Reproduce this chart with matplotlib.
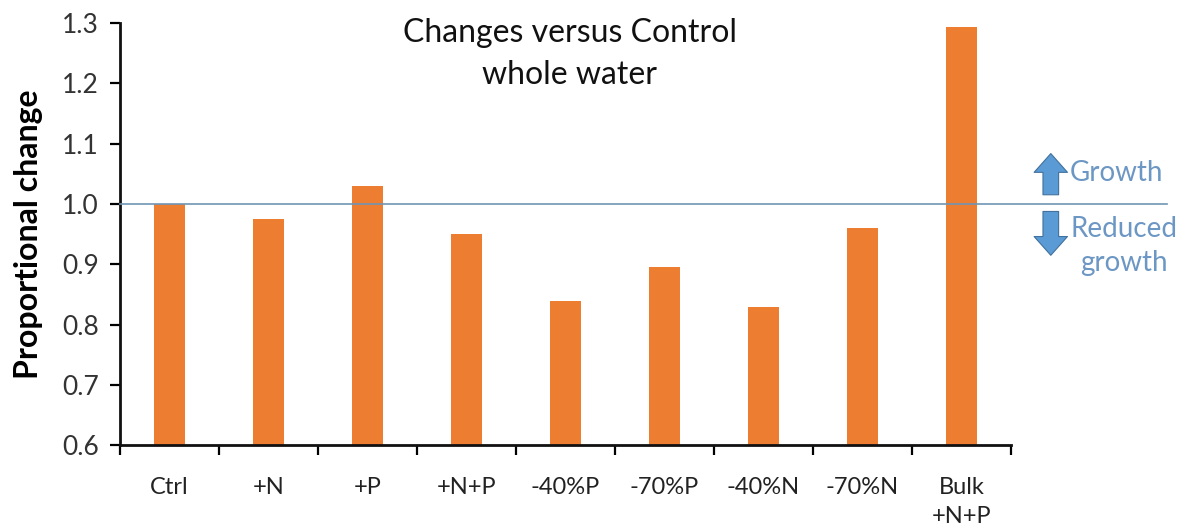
import numpy as np
import matplotlib
matplotlib.use('Agg')
import matplotlib.pyplot as plt

categories = ['Ctrl', '+N', '+P', '+N+P', '-40%P', '-70%P', '-40%N', '-70%N', 'Bulk\n+N+P']
values = [1.0, 0.975, 1.03, 0.951, 0.839, 0.895, 0.830, 0.961, 1.293]

plt.rcParams['font.family'] = ['Lato', 'DejaVu Sans']

fig = plt.figure(figsize=(11.82, 5.31), dpi=100)
ax = fig.add_axes([0.1015, 0.1614, 0.7538, 0.7953])

x = np.arange(len(categories))
ax.bar(x, values, width=0.313, bottom=0, color='#ED7D31', zorder=2)

ax.set_xlim(-0.5, len(categories) - 0.5)
ax.set_ylim(0.6, 1.3)
ax.set_yticks(np.arange(0.6, 1.31, 0.1))
ax.set_yticklabels(['%.1f' % v for v in np.arange(0.6, 1.31, 0.1)], fontsize=19, color='#333333')

ax.set_xticks(x)
ax.set_xticklabels(categories, fontsize=17, color='#222222', va='top', linespacing=1.45)
ax.set_xticks(np.arange(-0.5, len(categories), 1.0), minor=True)
ax.tick_params(axis='x', which='major', length=0, pad=23)
ax.tick_params(axis='x', which='minor', length=7, width=1.6, direction='out')
ax.tick_params(axis='y', length=7, width=1.6, direction='out', pad=8)

for s in ['top', 'right']:
    ax.spines[s].set_visible(False)
for s in ['left', 'bottom']:
    ax.spines[s].set_linewidth(2)
    ax.spines[s].set_color('#111111')

ax.set_ylabel('Proportional change', fontsize=23, fontweight='bold', labelpad=14)

# reference line at 1.0, running past the plot area
trans = matplotlib.transforms.blended_transform_factory(ax.transAxes, ax.transData)
ax.plot([0, 1.175], [1.0, 1.0], transform=trans, color='#6F95B3', lw=1.2, clip_on=False, zorder=3)

ax.text(0.482, 0.898, 'Changes versus Control\nwhole water', transform=fig.transFigure,
        ha='center', va='center', fontsize=23, linespacing=1.5, color='#111111')

# growth arrows
arrow_kw = dict(arrowstyle='simple,head_width=1.6,head_length=0.9,tail_width=0.75',
                fc='#5B9BD5', ec='#41719C', lw=0.8)
fig.patches.append(matplotlib.patches.FancyArrowPatch((0.889, 0.628), (0.889, 0.716),
                   transform=fig.transFigure, mutation_scale=15, **arrow_kw))
fig.patches.append(matplotlib.patches.FancyArrowPatch((0.889, 0.607), (0.889, 0.514),
                   transform=fig.transFigure, mutation_scale=15, **arrow_kw))

fig.text(0.905, 0.674, 'Growth', fontsize=20, color='#6C97C4', ha='left', va='center')
fig.text(0.951, 0.537, 'Reduced\ngrowth', fontsize=20, color='#6C97C4', ha='center', va='center',
         linespacing=1.4)

fig.savefig('out.png', dpi=100)
